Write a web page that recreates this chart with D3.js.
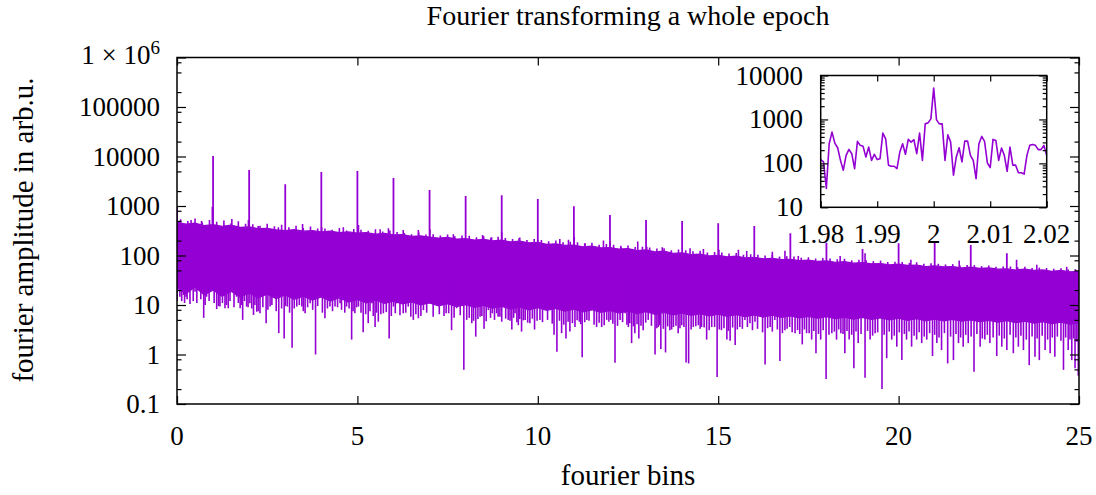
<!DOCTYPE html>
<html><head><meta charset="utf-8">
<script src="https://cdn.jsdelivr.net/npm/d3@7"></script>
<style>
html,body{margin:0;padding:0;background:#fff;}
svg text{font-family:"Liberation Serif","Times New Roman",serif;fill:#000;}
</style></head><body>
<svg id="chart" width="1096" height="495"></svg>
<script>
// ---------------- data ----------------
const titleText = "Fourier transforming a whole epoch";
const xTitle = "fourier bins";
const yTitle = "fourier amplitude in arb.u.";
const xTicks = [0, 5, 10, 15, 20, 25];
const yTicks = [0.1, 1, 10, 100, 1000, 10000, 100000, 1000000];
const yTickLabels = ["0.1", "1", "10", "100", "1000", "10000", "100000", "1e6"];
const yMinorMult = [2, 5, 8];

// main spectrum, summarised: solid noise band, bins 0..25 every 0.25
const bandStep = 0.25;
const bandTop = [470,430,450,400,420,390,410,370,380,350,
  355,330,320,335,310,320,300,310,290,300,
  285,290,270,280,260,265,245,250,235,225,
  232,215,220,205,212,198,205,188,195,180,
  185,168,172,160,163,150,154,142,145,135,
  138,126,130,118,122,110,113,104,107,98,
  101,94,97,90,92,86,88,83,84,79,
  81,76,78,73,75,70,72,68,69,65,
  67,63,64,60,62,59,60,56,58,55,
  56,53,54,51,53,50,51,48,50,47,48];
const bandBottom = [22,17,23,16,20,15,19,14.5,17.5,14,
  16.5,13.5,16,13,15,12.5,14.5,12,14,11.5,
  13,11,12.5,10.8,12,10.5,11.5,10,11,9.6,
  10.6,9.3,10.2,9,9.8,8.6,9.4,8.3,9.1,8,
  8.8,7.8,8.5,7.5,8.2,7.3,8,7.1,7.7,6.9,
  7.5,6.7,7.3,6.5,7.1,6.3,6.9,6.2,6.7,6,
  6.5,5.9,6.4,5.8,6.3,5.7,6.2,5.6,6,5.5,
  5.9,5.4,5.8,5.3,5.7,5.2,5.6,5.1,5.5,5,
  5.4,4.9,5.3,4.8,5.2,4.8,5.1,4.7,5,4.6,
  4.9,4.5,4.8,4.4,4.7,4.3,4.6,4.2,4.5,4.1,4.4];

// ripple of small peaks on top of the band, every 0.2 bins from 0.1
const rippleStart = 0.1, rippleStep = 0.2;
const rippleAmps = [540,500,560,470,520, 480,510,450,490,440, 430,400,440,390,420,
  370,400,360,385,350, 350,330,360,320,345, 330,315,340,305,320, 300,285,270,290,265,
  270,255,265,245,255, 250,235,245,228,240, 225,215,230,205,215, 205,195,200,185,190,
  185,175,180,165,170, 165,158,160,148,150, 145,138,140,128,132, 128,122,125,115,118,
  115,110,112,104,106, 104,100,102,95,97, 95,90,92,87,89, 87,84,86,80,82,
  80,77,79,74,75, 74,71,73,68,70, 68,66,67,63,64, 64,61,63,59,60,
  60,58,59,56,57, 56,54,55,52,53];

// harmonic peaks
const harmonicBins = [1,2,3,4,5,6,7,8,9,10,11,12,13,14,15,16,17,18,19,20,21,22,23];
const harmonicAmps = [10230,5330,2740,4860,5090,3680,2100,1590,1640,1380,990,657,521,498,447,394,281,181,135,176,185,163,111];

// isolated upward spikes above the noise band
const upBins = [0.005,0.39,0.68,0.98,1.52,1.98,2.25,2.81,3.48,4.01,4.61,5.03,5.63,5.86,6.27,6.69,7.01,7.66,
  8.47,8.72,9.0,9.48,10.0,10.61,10.85,11.01,11.31,11.82,12.0,12.31,12.77,13.02,13.45,14.22,14.59,15.02,15.56,15.79,
  16.5,16.85,17.22,18.38,19.07,20.34,21.68,23.27,23.83,24.66];
const upAmps = [950,521,498,970,546,520,394,371,433,371,371,413,338,354,327,327,338,268,
  260,233,302,222,207,215,207,240,176,200,191,147,191,150,147,140,135,130,130,124,
  119,125,98,98,111,82,79,82,65,59];

// downward dips below the noise band (deep ones)
const dipBins = [0.005,0.08,0.18,0.25,0.31,0.41,0.5,0.59,0.74,0.82,0.96,1.1,1.19,1.33,1.42,1.52,1.65,1.75,1.82,1.93,
  2.02,2.12,2.21,2.3,2.47,2.58,2.69,2.82,2.97,3.06,3.19,3.32,3.46,3.55,3.69,3.84,3.96,4.1,4.24,4.38,
  4.52,4.61,4.7,4.84,4.93,5.03,5.16,5.3,5.4,5.49,5.58,5.72,5.88,6.0,6.09,6.27,6.41,6.55,6.69,6.83,
  7.01,7.2,7.34,7.46,7.61,7.75,7.95,8.03,8.17,8.28,8.4,8.51,8.63,8.74,8.86,8.95,9.04,9.18,9.28,9.37,
  9.46,9.55,9.65,9.78,9.91,10.06,10.2,10.34,10.45,10.53,10.66,10.78,10.89,11.03,11.15,11.23,11.36,11.49,11.63,11.77,
  11.91,12.02,12.14,12.28,12.42,12.51,12.6,12.69,12.8,12.92,13.06,13.25,13.34,13.41,13.54,13.66,13.76,13.89,13.99,14.11,
  14.18,14.31,14.45,14.54,14.68,14.82,14.97,15.09,15.24,15.33,15.47,15.6,15.74,15.88,16.02,16.16,16.3,16.44,16.57,16.71,
  16.85,16.98,17.13,17.33,17.45,17.59,17.71,17.84,17.99,18.15,18.28,18.4,18.51,18.63,18.76,18.88,19.07,19.21,19.35,19.54,
  19.67,19.81,19.95,20.09,20.22,20.36,20.5,20.64,20.78,20.94,21.06,21.19,21.36,21.52,21.66,21.79,21.93,22.09,22.26,22.39,
  22.53,22.72,22.86,23.0,23.18,23.32,23.46,23.62,23.78,23.9,24.06,24.2,24.33,24.57,24.7,24.8,24.89,24.98];
const dipAmps = [12,14.7,15.9,14.7,18.6,23.5,18.6,20,5.5,14.7,23.5,8.3,9.3,8.6,8.6,23.5,14.7,8.6,5.0,9.3,
  10.8,6.3,7.3,6.8,4.3,9.3,14.7,2.7,2.1,9.3,1.37,9.3,9.3,6.8,10.8,1.0,16,5.4,9.3,9.3,
  10.8,14.7,9.3,2.0,6.8,9.3,2.8,4.3,10.8,3.6,4.6,6.8,2.1,9.3,10.8,6.8,9.3,5.0,5.4,7.9,
  10.8,10.2,10.8,6.8,3.1,8.6,0.49,5.0,4.3,2.3,5.8,3.3,7.9,6.8,6.8,5.8,10.8,5.0,3.2,6.8,
  3.9,2.9,5.0,4.3,3.2,5.0,8.6,9.3,2.5,1.14,2.7,2.1,2.9,3.6,4.6,0.88,5.0,7.9,3.6,3.6,
  5.0,5.0,0.68,5.0,6.8,3.6,1.7,2.7,2.1,3.1,5.0,1.0,3.6,1.29,1.1,3.1,3.6,2.7,3.9,0.69,
  0.66,3.6,3.9,3.6,2.0,3.6,0.35,3.1,2.0,1.9,1.56,3.6,5.0,4.3,4.6,6.8,0.63,3.6,5.0,0.74,
  3.1,3.6,2.7,1.6,2.7,2.0,1.06,2.0,0.32,2.7,2.0,2.7,1.06,2.0,0.53,1.7,0.34,2.0,2.7,0.2,
  0.84,2.0,1.44,0.77,2.0,1.44,2.0,1.7,2.0,0.93,1.7,1.23,0.66,0.77,1.7,1.44,1.7,0.45,1.44,2.0,
  1.7,0.93,1.44,1.23,1.06,1.44,1.23,0.61,0.9,0.77,1.23,1.06,0.9,0.49,1.23,0.77,0.53,0.37];

// shallow dips forming the fuzzy lower fringe of the band
const fringeBins = [0.13,0.21,0.28,0.36,0.45,0.55,0.66,0.78,0.89,1.03,1.15,1.26,1.37,1.47,1.58,1.7,1.79,1.87,1.97,
  2.07,2.16,2.25,2.38,2.52,2.63,2.75,2.9,3.01,3.12,3.25,3.39,3.5,3.62,3.76,3.9,4.03,4.17,4.31,4.45,4.56,4.65,4.77,4.88,4.98,
  5.1,5.23,5.35,5.44,5.53,5.65,5.8,5.94,6.05,6.18,6.34,6.48,6.62,6.76,6.92,7.1,7.27,7.4,7.53,7.68,7.85,
  8.1,8.22,8.34,8.45,8.57,8.69,8.8,8.9,9.0,9.11,9.23,9.33,9.42,9.5,9.6,9.72,9.85,9.98,
  10.13,10.27,10.4,10.6,10.72,10.84,10.96,11.09,11.19,11.3,11.42,11.56,11.7,11.84,11.97,12.08,12.21,12.35,12.47,12.55,12.65,12.75,12.86,12.99,
  13.15,13.3,13.38,13.48,13.6,13.71,13.83,13.94,14.05,14.25,14.38,14.5,14.61,14.75,14.9,15.03,15.16,15.28,15.4,15.53,15.67,15.81,15.95,
  16.09,16.23,16.37,16.5,16.64,16.78,16.91,17.05,17.2,17.26,17.39,17.52,17.65,17.78,17.91,18.07,18.22,18.34,18.46,18.57,18.7,18.82,18.96,19.14,19.28,19.42,19.6,19.74,19.88,20.02,
  20.16,20.29,20.43,20.57,20.71,20.86,21.0,21.12,21.27,21.44,21.59,21.72,21.86,22.01,22.17,22.32,22.46,22.62,22.79,22.93,23.09,23.25,23.39,23.54,23.7,23.84,23.98,24.13,24.26,24.4,24.5,24.63,24.75,24.85,24.94];
const fringeAmps = [12,11,13,10.5,12,11,13,10,12,11,9.5,11,10,12,9,11,10,12,9,
  8.5,10,7.5,9,8,10,7.5,8.5,9.5,7,8.5,10,7.5,9,8,9.5,7,8.5,7.5,9,8,7,8.5,7.5,9,
  7,6.5,7.5,6,7,6.5,7.2,6,6.8,6.2,7,5.8,6.5,6,7,5.8,6.5,6,6.8,5.5,6.2,
  5.5,4.8,5.2,6,4.7,5.5,5,5.8,4.6,5.3,4.8,5.5,4.5,5.2,4.9,4.4,5.3,4.8,
  4.5,5,4.2,4.8,4.0,4.6,4.3,4.9,4.1,4.5,4.8,4.0,4.4,3.9,4.6,4.2,3.8,4.5,4.0,4.3,3.7,4.1,3.8,4.4,
  3.8,3.4,3.9,3.3,3.7,3.2,3.8,3.4,3.6,3.2,3.7,3.3,3.5,3.1,3.6,3.2,3.4,3.0,3.5,3.2,3.3,3.6,3.1,
  3.3,2.8,3.4,2.9,3.2,2.7,3.3,2.8,3.1,2.6,3.2,2.7,3.0,2.6,3.1,2.5,2.9,3.2,2.6,3.0,2.5,2.9,2.6,3.0,2.4,2.8,2.5,2.9,2.4,2.8,
  2.6,2.9,2.4,2.8,2.3,2.7,2.5,2.2,2.7,2.3,2.6,2.2,2.5,2.3,2.6,2.1,2.5,2.2,2.4,2.1,2.5,2.2,2.4,2.0,2.3,2.1,2.4,2.0,2.2,2.3,1.9,2.2,2.0,2.1,1.8];

// inset: zoom on bins 1.98 .. 2.02
const insetStart = 1.98, insetStep = 0.0005;
const insetTicksX = [1.98, 1.99, 2, 2.01, 2.02];
const insetTickLabelsX = ["1.98", "1.99", "2", "2.01", "2.02"];
const insetTicksY = [10, 100, 1000, 10000];
const insetTickLabelsY = ["10", "100", "1000", "10000"];
const insetAmps = [122,108,27,280,514,290,227,117,70,152,
  208,166,76,316,257,244,140,235,117,161,
  122,128,488,363,91,86,86,76,181,280,
  161,351,305,345,166,488,117,793,835,1028,
  5160,976,793,793,117,447,305,54,140,227,
  108,321,321,152,117,45,280,410,316,102,
  80,351,333,117,223,152,66,235,91,91,
  61,61,57,152,257,270,257,205,205,257,152];

// ---------------- drawing ----------------
const COL = "#9400d3";
const svg = d3.select("#chart");
const FS = 27;    // numbers
const FSW = 29;   // words

const x = d3.scaleLinear().domain([0, 25]).range([177, 1079]);
const y = d3.scaleLog().domain([0.1, 1e6]).range([404, 57.5]);

const defs = svg.append("defs");
defs.append("clipPath").attr("id", "clipMain")
  .append("rect").attr("x", 177).attr("y", 57.5).attr("width", 902).attr("height", 346.5);

const plot = svg.append("g").attr("clip-path", "url(#clipMain)");

const band = d3.range(bandTop.length).map(i => ({b: i * bandStep, hi: bandTop[i], lo: bandBottom[i]}));
plot.append("path").datum(band)
  .attr("d", d3.area().x(d => x(d.b)).y0(d => y(d.lo)).y1(d => y(d.hi)))
  .attr("fill", COL).attr("stroke", COL).attr("stroke-width", 1.2);

const MID = 40;
function spikes(bins, amps, w) {
  plot.append("g").selectAll("line").data(d3.zip(bins, amps)).join("line")
    .attr("x1", d => x(d[0])).attr("x2", d => x(d[0]))
    .attr("y1", y(MID)).attr("y2", d => y(d[1]))
    .attr("stroke", COL).attr("stroke-width", w);
}
spikes(rippleAmps.map((d, i) => rippleStart + i * rippleStep), rippleAmps, 1.6);
spikes(fringeBins, fringeAmps, 1.6);
spikes(dipBins, dipAmps, 1.6);
spikes(upBins, upAmps, 1.6);
spikes(harmonicBins, harmonicAmps, 1.8);

// main axes
function styleAxis(g) {
  g.select(".domain").remove();
  g.selectAll(".tick line").attr("stroke", "#000").attr("stroke-width", 1.2);
  g.selectAll(".tick text").remove();
}
const yMinor = [];
yTicks.slice(0, -1).forEach(t => yMinorMult.forEach(m => yMinor.push(t * m)));

svg.append("g").attr("transform", "translate(0,404)").call(d3.axisBottom(x).tickValues(xTicks).tickSize(-8)).call(styleAxis);
svg.append("g").attr("transform", "translate(0,57.5)").call(d3.axisTop(x).tickValues(xTicks).tickSize(-8)).call(styleAxis);
svg.append("g").attr("transform", "translate(177,0)").call(d3.axisLeft(y).tickValues(yTicks).tickSize(-9)).call(styleAxis);
svg.append("g").attr("transform", "translate(1079,0)").call(d3.axisRight(y).tickValues(yTicks).tickSize(-9)).call(styleAxis);
svg.append("g").attr("transform", "translate(177,0)").call(d3.axisLeft(y).tickValues(yMinor).tickSize(-4.5)).call(styleAxis);
svg.append("g").attr("transform", "translate(1079,0)").call(d3.axisRight(y).tickValues(yMinor).tickSize(-4.5)).call(styleAxis);

svg.append("rect").attr("x", 177).attr("y", 57.5).attr("width", 902).attr("height", 346.5)
  .attr("fill", "none").attr("stroke", "#000").attr("stroke-width", 1.5);

// tick labels
svg.append("g").selectAll("text").data(xTicks).join("text")
  .attr("x", d => x(d)).attr("y", 445).attr("text-anchor", "middle")
  .attr("font-size", FS).text(d => String(d));

const yl = svg.append("g");
yTicks.forEach((t, i) => {
  const lab = yTickLabels[i];
  if (lab === "1e6") {
    const tx = yl.append("text").attr("x", 160).attr("y", y(t) + 6).attr("text-anchor", "end").attr("font-size", FS);
    tx.append("tspan").text("1 × 10");
    tx.append("tspan").attr("dy", -10).attr("font-size", 19).text("6");
  } else {
    yl.append("text").attr("x", 160).attr("y", y(t) + 9).attr("text-anchor", "end")
      .attr("font-size", FS).text(lab);
  }
});

// titles
svg.append("text").attr("x", 628).attr("y", 25).attr("text-anchor", "middle").attr("font-size", 28).text(titleText);
svg.append("text").attr("x", 628).attr("y", 485).attr("text-anchor", "middle").attr("font-size", FSW).text(xTitle);
svg.append("text").attr("transform", "translate(33,230) rotate(-90)").attr("text-anchor", "middle")
  .attr("font-size", FSW).text(yTitle);

// ---------------- inset ----------------
const xi = d3.scaleLinear().domain([1.98, 2.02]).range([820.7, 1046.7]);
const yi = d3.scaleLog().domain([10, 10000]).range([207.3, 75.5]);

svg.append("rect").attr("x", 820.7).attr("y", 75.5).attr("width", 226).attr("height", 131.8).attr("fill", "#fff");
defs.append("clipPath").attr("id", "clipInset")
  .append("rect").attr("x", 820.7).attr("y", 75.5).attr("width", 226).attr("height", 131.8);

svg.append("g").attr("clip-path", "url(#clipInset)").append("path").datum(insetAmps)
  .attr("d", d3.line().x((d, i) => xi(insetStart + i * insetStep)).y(d => yi(d)))
  .attr("fill", "none").attr("stroke", COL).attr("stroke-width", 1.6).attr("stroke-linejoin", "round");

const yiMinor = [];
insetTicksY.slice(0, -1).forEach(t => [2,3,4,5,6,7,8,9].forEach(m => yiMinor.push(t * m)));

svg.append("g").attr("transform", "translate(0,207.3)").call(d3.axisBottom(xi).tickValues(insetTicksX).tickSize(-6)).call(styleAxis);
svg.append("g").attr("transform", "translate(0,75.5)").call(d3.axisTop(xi).tickValues(insetTicksX).tickSize(-6)).call(styleAxis);
svg.append("g").attr("transform", "translate(820.7,0)").call(d3.axisLeft(yi).tickValues(insetTicksY).tickSize(-7.5)).call(styleAxis);
svg.append("g").attr("transform", "translate(1046.7,0)").call(d3.axisRight(yi).tickValues(insetTicksY).tickSize(-7.5)).call(styleAxis);
svg.append("g").attr("transform", "translate(820.7,0)").call(d3.axisLeft(yi).tickValues(yiMinor).tickSize(-4)).call(styleAxis);
svg.append("g").attr("transform", "translate(1046.7,0)").call(d3.axisRight(yi).tickValues(yiMinor).tickSize(-4)).call(styleAxis);

svg.append("rect").attr("x", 820.7).attr("y", 75.5).attr("width", 226).attr("height", 131.8)
  .attr("fill", "none").attr("stroke", "#000").attr("stroke-width", 1.5);

svg.append("g").selectAll("text").data(insetTicksX).join("text")
  .attr("x", d => xi(d)).attr("y", 243).attr("text-anchor", "middle")
  .attr("font-size", FS).text((d, i) => insetTickLabelsX[i]);
svg.append("g").selectAll("text").data(insetTicksY).join("text")
  .attr("x", 803).attr("y", d => yi(d) + 9).attr("text-anchor", "end")
  .attr("font-size", FS).text((d, i) => insetTickLabelsY[i]);
</script>
</body></html>
